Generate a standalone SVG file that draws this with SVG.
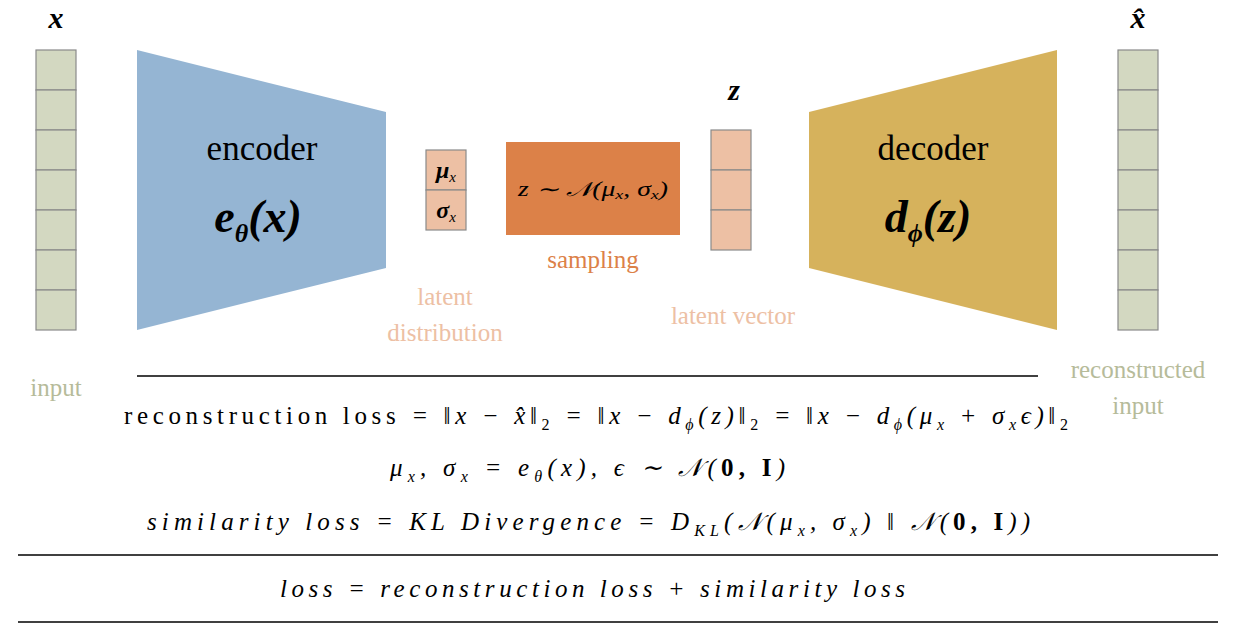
<svg xmlns="http://www.w3.org/2000/svg" width="1250" height="624" viewBox="0 0 1250 624">
<style>
.v{fill:#d3d8c1;stroke:#8a8a8a;stroke-width:1.2}
.l{fill:#edc0a4;stroke:#8a8a8a;stroke-width:1.2}
.t{font-family:"Liberation Serif",serif}
.m{font-family:"Liberation Serif",serif;font-style:italic}
.b{font-weight:bold}
</style>
<rect width="1250" height="624" fill="#fff"/>
<g id="input">
<text x="56" y="28" class="m b" font-size="30" text-anchor="middle">x</text>
<rect x="36" y="50" width="40" height="40" class="v"/><rect x="36" y="90" width="40" height="40" class="v"/><rect x="36" y="130" width="40" height="40" class="v"/><rect x="36" y="170" width="40" height="40" class="v"/><rect x="36" y="210" width="40" height="40" class="v"/><rect x="36" y="250" width="40" height="40" class="v"/><rect x="36" y="290" width="40" height="40" class="v"/>
<text x="56" y="396" class="t" font-size="25" fill="#b6bb9a" text-anchor="middle">input</text>
</g>
<g id="encoder">
<polygon points="137,50 386,112 386,268 137,330" fill="#95b5d3"/>
<text x="262" y="160" class="t" font-size="35" text-anchor="middle">encoder</text>
<text x="258" y="232" class="m b" font-size="46" text-anchor="middle">e<tspan font-size="26" dy="10">θ</tspan><tspan dy="-10">(x)</tspan></text>
</g>
<g id="latent">
<rect x="426" y="150" width="40" height="40" class="l"/><rect x="426" y="190" width="40" height="40" class="l"/>
<text x="446" y="178" class="m b" font-size="24" text-anchor="middle">μ<tspan font-size="15" dy="4" font-weight="normal">x</tspan></text>
<text x="446" y="218" class="m b" font-size="24" text-anchor="middle">σ<tspan font-size="15" dy="4" font-weight="normal">x</tspan></text>
<text x="445" y="305" class="t" font-size="25" fill="#edc0a4" text-anchor="middle">latent</text>
<text x="445" y="341" class="t" font-size="25" fill="#edc0a4" text-anchor="middle">distribution</text>
</g>
<g id="sampling">
<rect x="506" y="142" width="174" height="93" fill="#dc8148"/>
<text x="593" y="196" class="m" font-size="20" text-anchor="middle" textLength="150" lengthAdjust="spacingAndGlyphs">z ∼ 𝒩(μ<tspan font-size="13" dy="3">x</tspan><tspan dy="-3">, σ</tspan><tspan font-size="13" dy="3">x</tspan><tspan dy="-3">)</tspan></text>
<text x="593" y="268" class="t" font-size="25" fill="#dc8148" text-anchor="middle">sampling</text>
</g>
<g id="z">
<text x="734" y="100" class="m b" font-size="30" text-anchor="middle">z</text>
<rect x="711" y="130" width="40" height="40" class="l"/><rect x="711" y="170" width="40" height="40" class="l"/><rect x="711" y="210" width="40" height="40" class="l"/>
<text x="733" y="324" class="t" font-size="25" fill="#edc0a4" text-anchor="middle">latent vector</text>
</g>
<g id="decoder">
<polygon points="809,112 1057,50 1057,330 809,268" fill="#d6b25c"/>
<text x="933" y="160" class="t" font-size="35" text-anchor="middle">decoder</text>
<text x="928" y="232" class="m b" font-size="46" text-anchor="middle">d<tspan font-size="26" dy="10">ϕ</tspan><tspan dy="-10">(z)</tspan></text>
</g>
<g id="output">
<text x="1138" y="28" class="m b" font-size="30" text-anchor="middle">x̂</text>
<rect x="1118" y="50" width="40" height="40" class="v"/><rect x="1118" y="90" width="40" height="40" class="v"/><rect x="1118" y="130" width="40" height="40" class="v"/><rect x="1118" y="170" width="40" height="40" class="v"/><rect x="1118" y="210" width="40" height="40" class="v"/><rect x="1118" y="250" width="40" height="40" class="v"/><rect x="1118" y="290" width="40" height="40" class="v"/>
<text x="1138" y="378" class="t" font-size="25" fill="#b6bb9a" text-anchor="middle">reconstructed</text>
<text x="1138" y="414" class="t" font-size="25" fill="#b6bb9a" text-anchor="middle">input</text>
</g>
<g id="connectors" stroke="#000" stroke-width="1.5">
<line x1="137" y1="376" x2="1038" y2="376"/>
<line x1="18" y1="555" x2="1218" y2="555"/>
<line x1="18" y1="622" x2="1218" y2="622"/>
</g>
<g id="formulas" font-size="25">
<text x="124" y="424" class="t" textLength="944" lengthAdjust="spacing">reconstruction loss <tspan class="m">= ‖x − x̂‖</tspan><tspan font-size="16" dy="6" class="t">2</tspan><tspan dy="-6" class="m"> = ‖x − d</tspan><tspan font-size="16" dy="6" class="m">ϕ</tspan><tspan dy="-6" class="m">(z)‖</tspan><tspan font-size="16" dy="6">2</tspan><tspan dy="-6" class="m"> = ‖x − d</tspan><tspan font-size="16" dy="6" class="m">ϕ</tspan><tspan dy="-6" class="m">(μ</tspan><tspan font-size="16" dy="6" class="m">x</tspan><tspan dy="-6" class="m"> + σ</tspan><tspan font-size="16" dy="6" class="m">x</tspan><tspan dy="-6" class="m">ϵ)‖</tspan><tspan font-size="16" dy="6">2</tspan></text>
<text x="390" y="476" class="m" textLength="395" lengthAdjust="spacing">μ<tspan font-size="16" dy="6">x</tspan><tspan dy="-6">, σ</tspan><tspan font-size="16" dy="6">x</tspan><tspan dy="-6"> = e</tspan><tspan font-size="16" dy="6">θ</tspan><tspan dy="-6">(x),    ϵ ∼ 𝒩(</tspan><tspan class="t b" font-style="normal">0, I</tspan><tspan>)</tspan></text>
<text x="147" y="530" class="m" textLength="883" lengthAdjust="spacing">similarity loss = KL Divergence = D<tspan font-size="16" dy="6">KL</tspan><tspan dy="-6">(𝒩(μ</tspan><tspan font-size="16" dy="6">x</tspan><tspan dy="-6">, σ</tspan><tspan font-size="16" dy="6">x</tspan><tspan dy="-6">) ‖ 𝒩(</tspan><tspan class="t b" font-style="normal">0, I</tspan><tspan>))</tspan></text>
<text x="280" y="597" class="m" textLength="625" lengthAdjust="spacing">loss = reconstruction loss + similarity loss</text>
</g>
</svg>
